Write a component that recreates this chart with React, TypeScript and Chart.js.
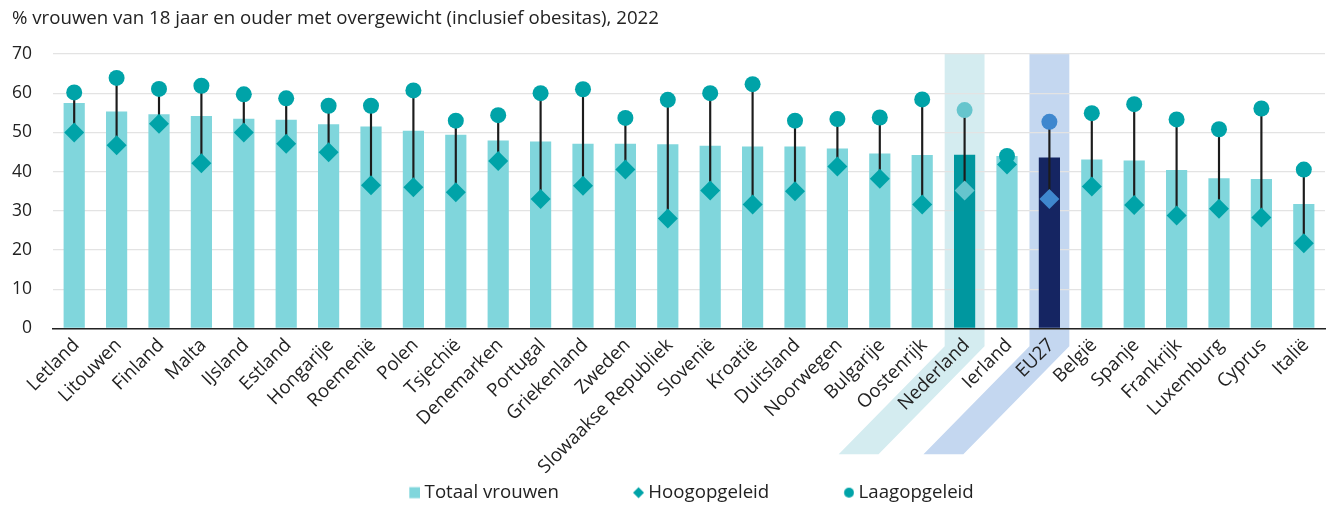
import React, { useEffect, useRef } from 'react';
import { Chart, registerables } from 'chart.js';

Chart.register(...registerables);

const titleText = '% vrouwen van 18 jaar en ouder met overgewicht (inclusief obesitas), 2022';

const categories = [
  'Letland', 'Litouwen', 'Finland', 'Malta', 'IJsland', 'Estland', 'Hongarije', 'Roemenië',
  'Polen', 'Tsjechië', 'Denemarken', 'Portugal', 'Griekenland', 'Zweden', 'Slowaakse Republiek',
  'Slovenië', 'Kroatië', 'Duitsland', 'Noorwegen', 'Bulgarije', 'Oostenrijk', 'Nederland',
  'Ierland', 'EU27', 'België', 'Spanje', 'Frankrijk', 'Luxemburg', 'Cyprus', 'Italië',
];

const totaalVrouwen = [
  57.5, 55.3, 54.6, 54.2, 53.5, 53.2, 52.1, 51.5, 50.4, 49.4, 47.9, 47.7, 47.1, 47.1, 47.0,
  46.6, 46.4, 46.4, 45.9, 44.6, 44.2, 44.3, 44.0, 43.6, 43.1, 42.8, 40.4, 38.3, 38.1, 31.7,
];

const hoogopgeleid = [
  50.0, 46.7, 52.2, 42.1, 50.0, 47.1, 44.9, 36.5, 36.0, 34.7, 42.7, 33.0, 36.4, 40.5, 28.0,
  35.2, 31.6, 35.0, 41.3, 38.2, 31.6, 35.2, 41.8, 33.0, 36.2, 31.5, 28.8, 30.5, 28.3, 21.7,
];

const laagopgeleid = [
  60.2, 63.9, 61.1, 61.9, 59.7, 58.7, 56.8, 56.8, 60.7, 53.0, 54.4, 60.0, 61.0, 53.7, 58.3,
  60.0, 62.3, 53.0, 53.4, 53.8, 58.4, 55.7, 44.0, 52.7, 54.9, 57.2, 53.3, 50.8, 56.1, 40.5,
];

const yTicks = [0, 10, 20, 30, 40, 50, 60, 70];

const FONT = "'Open Sans', 'Noto Sans', sans-serif";
const TEXT = '#222222';
const FS = 18.67;

const BAR = '#80D6DC';
const MARK = '#00A3A8';
const NL = 'Nederland';
const EU = 'EU27';
const NL_BAR = '#00979F';
const NL_MARK = '#66C5CD';
const NL_BAND = '#D4ECF0';
const EU_BAR = '#152562';
const EU_MARK = '#3F87CE';
const EU_BAND = '#C4D7F0';

const barColors = categories.map((c) => (c === NL ? NL_BAR : c === EU ? EU_BAR : BAR));
const markColors = categories.map((c) => (c === NL ? NL_MARK : c === EU ? EU_MARK : MARK));
const bands = [
  { label: NL, color: NL_BAND },
  { label: EU, color: EU_BAND },
];

const LEG_BOX = 70;
const LEG_SHIFT = -11.5;

function makeLegendMarker(kind: string, color: string): HTMLCanvasElement {
  const c = document.createElement('canvas');
  c.width = LEG_BOX + 10;
  c.height = 14;
  const g = c.getContext('2d')!;
  g.fillStyle = color;
  const right = c.width;
  if (kind === 'rect') {
    g.fillRect(right - 11, 1.5, 11, 11);
  } else if (kind === 'diamond') {
    const cx = right - 5.5;
    g.beginPath();
    g.moveTo(cx, 1.5);
    g.lineTo(cx + 5.5, 7);
    g.lineTo(cx, 12.5);
    g.lineTo(cx - 5.5, 7);
    g.closePath();
    g.fill();
  } else {
    g.beginPath();
    g.arc(right - 5.2, 7, 5, 0, Math.PI * 2);
    g.fill();
  }
  return c;
}

const bandPlugin = {
  id: 'highlightBands',
  afterLayout(chart: any) {
    if (chart.legend) {
      chart.legend.left += LEG_SHIFT;
      chart.legend.right += LEG_SHIFT;
    }
  },
  beforeDraw(chart: any) {
    const x = chart.scales.x;
    const { top, bottom } = chart.chartArea;
    const ctx = chart.ctx;
    const step = x.getPixelForValue(1) - x.getPixelForValue(0);
    const half = step * 0.47;
    const bend = bottom + 18;
    const endY = bottom + 126;
    const shift = 106;
    ctx.save();
    bands.forEach((b) => {
      const i = categories.indexOf(b.label);
      if (i < 0) return;
      const cx = x.getPixelForValue(i);
      ctx.fillStyle = b.color;
      ctx.beginPath();
      ctx.moveTo(cx - half, top);
      ctx.lineTo(cx + half, top);
      ctx.lineTo(cx + half, bend);
      ctx.lineTo(cx + half - shift, endY);
      ctx.lineTo(cx - half - shift, endY);
      ctx.lineTo(cx - half, bend);
      ctx.closePath();
      ctx.fill();
    });
    ctx.restore();
  },
};

export default function App() {
  const ref = useRef<HTMLCanvasElement | null>(null);

  useEffect(() => {
    if (!ref.current) return;
    const markers = {
      bar: makeLegendMarker('rect', BAR),
      hoog: makeLegendMarker('diamond', MARK),
      laag: makeLegendMarker('circle', MARK),
    };
    const stems = categories.map((_, i) => [
      Math.min(hoogopgeleid[i], laagopgeleid[i]),
      Math.max(hoogopgeleid[i], laagopgeleid[i]),
    ]);

    const chart = new Chart(ref.current, {
      type: 'bar',
      data: {
        labels: categories,
        datasets: [
          {
            type: 'bar',
            label: 'Totaal vrouwen',
            data: totaalVrouwen,
            backgroundColor: barColors,
            barPercentage: 0.5,
            categoryPercentage: 1,
            grouped: false,
            order: 4,
          } as any,
          {
            type: 'bar',
            label: 'stem',
            data: stems,
            backgroundColor: '#1c1c1c',
            barThickness: 1.5,
            grouped: false,
            order: 3,
          } as any,
          {
            type: 'line',
            label: 'Hoogopgeleid',
            data: hoogopgeleid,
            showLine: false,
            pointStyle: 'rectRot',
            pointRadius: 10,
            pointBorderWidth: 0,
            pointBackgroundColor: markColors,
            pointBorderColor: markColors,
            order: 2,
          } as any,
          {
            type: 'line',
            label: 'Laagopgeleid',
            data: laagopgeleid,
            showLine: false,
            pointStyle: 'circle',
            pointRadius: 8,
            pointBorderWidth: 0,
            pointBackgroundColor: markColors,
            pointBorderColor: markColors,
            order: 1,
          } as any,
        ],
      },
      options: {
        responsive: false,
        animation: false,
        events: [],
        layout: { padding: { left: 12, right: 5, top: 0, bottom: -6 } },
        plugins: {
          tooltip: { enabled: false },
          title: {
            display: true,
            text: titleText,
            align: 'start',
            color: TEXT,
            font: { family: FONT, size: FS, weight: 'normal' },
            padding: { top: 7.8, bottom: 23.8 },
          },
          legend: {
            display: true,
            position: 'bottom',
            labels: {
              color: TEXT,
              font: { family: FONT, size: FS },
              usePointStyle: true,
              pointStyleWidth: LEG_BOX,
              boxHeight: 14,
              padding: 10,
              generateLabels: () => [
                { text: 'Totaal vrouwen', pointStyle: markers.bar, fillStyle: BAR, strokeStyle: BAR, lineWidth: 0, hidden: false, datasetIndex: 0, fontColor: TEXT },
                { text: 'Hoogopgeleid', pointStyle: markers.hoog, fillStyle: MARK, strokeStyle: MARK, lineWidth: 0, hidden: false, datasetIndex: 2, fontColor: TEXT },
                { text: 'Laagopgeleid', pointStyle: markers.laag, fillStyle: MARK, strokeStyle: MARK, lineWidth: 0, hidden: false, datasetIndex: 3, fontColor: TEXT },
              ] as any,
            },
          },
        },
        scales: {
          x: {
            type: 'category',
            offset: true,
            grid: { display: false, drawTicks: false },
            border: { display: true, color: '#222222', width: 1.5 },
            ticks: {
              color: TEXT,
              font: { family: FONT, size: FS },
              minRotation: 45,
              maxRotation: 45,
              autoSkip: false,
              padding: 6,
              labelOffset: 2,
            },
            afterFit: (scale: any) => {
              scale.height = 145;
            },
          },
          y: {
            min: 0,
            max: 70,
            afterBuildTicks: (scale: any) => {
              scale.ticks = yTicks.map((v) => ({ value: v }));
            },
            grid: { color: '#E3E3E3', lineWidth: 1.2, drawTicks: false },
            border: { display: false },
            ticks: {
              color: TEXT,
              font: { family: FONT, size: 17.5 },
              padding: 21,
            },
            afterFit: (scale: any) => {
              scale.width = 41;
            },
          },
        },
      },
      plugins: [bandPlugin],
    } as any);
    return () => chart.destroy();
  }, []);

  return (
    <div style={{ position: 'absolute', left: 0, top: 0, width: 1335, height: 506 }}>
      <canvas ref={ref} width={1335} height={506} style={{ display: 'block' }} />
    </div>
  );
}
